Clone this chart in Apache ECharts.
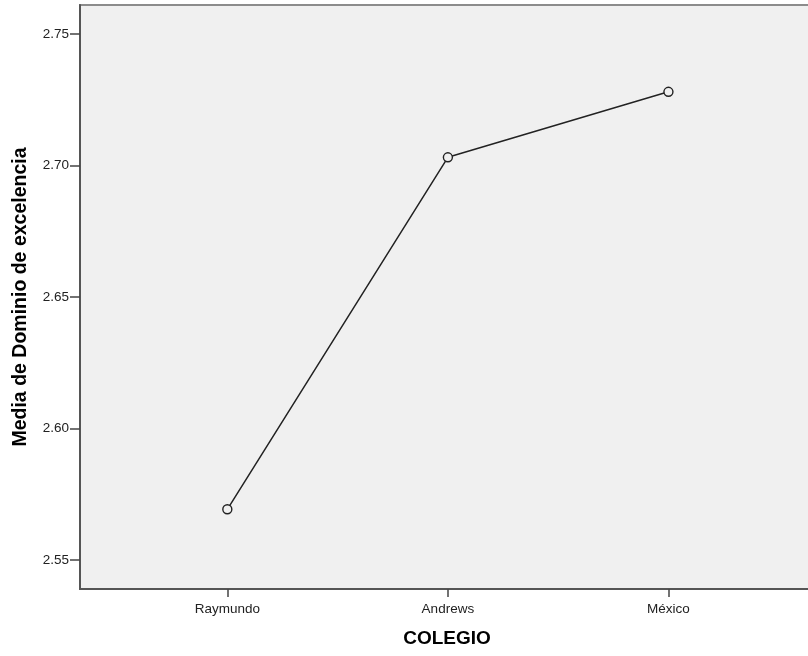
<!DOCTYPE html>
<html>
<head>
<meta charset="utf-8">
<script src="https://cdn.jsdelivr.net/npm/echarts@6/dist/echarts.min.js"></script>
<style>html,body{margin:0;padding:0;background:#fff}#c{width:808px;height:656px}</style>
</head>
<body>
<div id="c"></div>
<script>
var categories = ['Raymundo', 'Andrews', 'México'];
var means = [2.5693, 2.7031, 2.7280];
var yTicks = [2.55, 2.60, 2.65, 2.70, 2.75];
var xTitle = 'COLEGIO';
var yTitle = 'Media de Dominio de excelencia';

var chart = echarts.init(document.getElementById('c'), null, {renderer: 'canvas'});
var idx = categories.map(function (c, i) { return i; });
var font = '"Liberation Sans", Arial, sans-serif';
chart.setOption({
  animation: false,
  grid: {left: 80, top: 5, bottom: 67, right: -6, outerBoundsMode: 'none', containLabel: false, show: true, backgroundColor: '#f0f0f0', borderColor: '#8c8c8c', borderWidth: 2},
  xAxis: {
    type: 'value', min: -0.668, max: 2.66,
    name: xTitle, nameLocation: 'middle', nameGap: 40,
    nameTextStyle: {fontFamily: font, fontSize: 19, fontWeight: 'bold', color: '#000'},
    axisLine: {show: true, onZero: false, lineStyle: {color: '#555', width: 2}},
    axisTick: {show: true, customValues: idx, length: 8, lineStyle: {color: '#444', width: 1.5}},
    axisLabel: {customValues: idx, margin: 13, fontFamily: font, fontSize: 13.5, color: '#222',
      formatter: function (v) { return categories[Math.round(v)]; }},
    splitLine: {show: false}
  },
  yAxis: {
    type: 'value', min: 2.539, max: 2.761,
    name: yTitle, nameLocation: 'middle', nameGap: 49,
    nameTextStyle: {fontFamily: font, fontSize: 19.5, fontWeight: 'bold', color: '#000'},
    axisLine: {show: true, onZero: false, lineStyle: {color: '#555', width: 2}},
    axisTick: {show: true, customValues: yTicks, length: 10, lineStyle: {color: '#444', width: 1.5}},
    axisLabel: {customValues: yTicks, margin: 11, fontFamily: font, fontSize: 13.5, color: '#222',
      formatter: function (v) { return v.toFixed(2); }},
    splitLine: {show: false}
  },
  series: [{
    type: 'line',
    data: means.map(function (v, i) { return [idx[i], v]; }),
    symbol: 'circle', symbolSize: 9,
    lineStyle: {color: '#222', width: 1.5},
    itemStyle: {color: '#f0f0f0', borderColor: '#222', borderWidth: 1.4}
  }]
});
</script>
</body>
</html>
